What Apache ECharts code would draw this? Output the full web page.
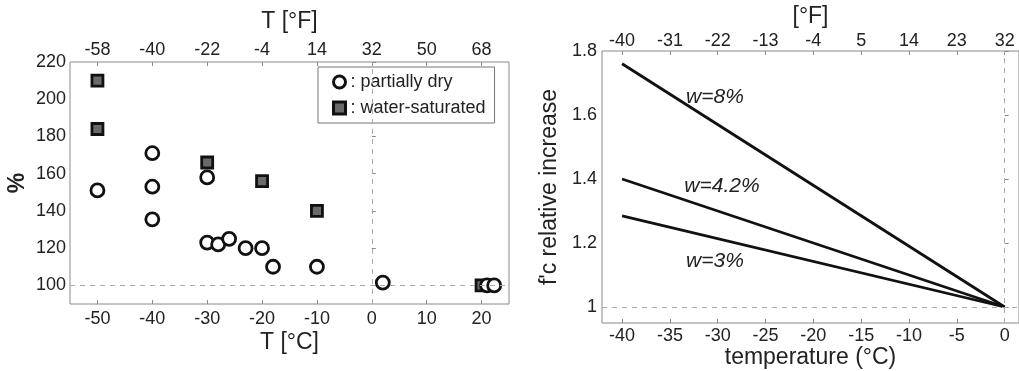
<!DOCTYPE html>
<html>
<head>
<meta charset="utf-8">
<script src="https://cdn.jsdelivr.net/npm/echarts@6/dist/echarts.min.js"></script>
<style>
  html, body { margin: 0; padding: 0; background: #fff; }
  #chart { width: 1019px; height: 371px; }
</style>
</head>
<body>
<div id="chart"></div>
<script>
// left panel: strength ratio vs temperature
const dryTempC = [-50, -40, -40, -40, -30, -30, -28, -26, -23, -20, -18, -10, 2, 21, 22.3];
const dryPct = [151, 171, 153, 135.5, 158, 123, 122, 125, 120, 120, 110, 110, 101.5, 100, 100];
const satTempC = [-50, -50, -30, -20, -10, 20];
const satPct = [210, 184, 166, 156, 140, 100];

const leftCTicks = [-50, -40, -30, -20, -10, 0, 10, 20];
const leftFTicks = [-58, -40, -22, -4, 14, 32, 50, 68];
const leftPctTicks = [100, 120, 140, 160, 180, 200, 220];

// right panel: f'c relative increase
const lineTempC = [-40, 0];
const w8 = [1.76, 1.0];
const w42 = [1.40, 1.0];
const w3 = [1.285, 1.0];
const lineNames = ['w=8%', 'w=4.2%', 'w=3%'];

const rightCTicks = [-40, -35, -30, -25, -20, -15, -10, -5, 0];
const rightFTicks = [-40, -31, -22, -13, -4, 5, 14, 23, 32];
const rightYTicks = [1, 1.2, 1.4, 1.6, 1.8];

const FONT = '"Liberation Sans", Arial, sans-serif';
const TXT = '#222';
const BORDER = '#8a8a8a';
const toF = c => c * 1.8 + 32;

const chart = echarts.init(document.getElementById('chart'));

function axisBase(ticks, margin) {
  return {
    axisLine: { show: false },
    axisTick: { show: true, inside: true, length: 4, customValues: ticks, lineStyle: { color: BORDER } },
    axisLabel: { customValues: ticks, color: TXT, fontSize: 18, fontFamily: FONT, margin: margin },
    splitLine: { show: false },
    nameMoveOverlap: false,
    nameTextStyle: { color: TXT, fontSize: 23, fontFamily: FONT }
  };
}

const dash = { type: [5, 5], color: '#aaa', width: 1 };

const option = {
  animation: false,
  backgroundColor: '#fff',
  textStyle: { fontFamily: FONT },
  grid: [
    { left: 70, right: 510, top: 62, bottom: 67, outerBoundsMode: 'none', show: true, borderColor: BORDER, borderWidth: 1 },
    { left: 602, right: 0, top: 51, bottom: 48, outerBoundsMode: 'none', show: true, borderColor: BORDER, borderWidth: 1 }
  ],
  legend: {
    data: [
      { name: 'partially dry', itemStyle: { color: '#fff', borderColor: '#111', borderWidth: 3 } },
      { name: 'water-saturated', itemStyle: { color: '#6a6a6a', borderColor: '#111', borderWidth: 3 } }
    ],
    orient: 'vertical',
    left: 318,
    top: 67,
    padding: [6, 9, 6, 14],
    itemWidth: 12,
    itemHeight: 12,
    itemGap: 8,
    backgroundColor: '#fff',
    borderColor: '#777',
    borderWidth: 1,
    formatter: ': {name}',
    textStyle: { color: TXT, fontSize: 18, fontFamily: FONT }
  },
  xAxis: [
    Object.assign(axisBase(leftCTicks, 6), {
      type: 'value', gridIndex: 0, position: 'bottom', min: -55, max: 25,
      name: 'T [°C]', nameLocation: 'middle', nameGap: 27
    }),
    Object.assign(axisBase(leftFTicks, 3), {
      type: 'value', gridIndex: 0, position: 'top', min: toF(-55), max: toF(25),
      name: 'T [°F]', nameLocation: 'middle', nameGap: 29
    }),
    Object.assign(axisBase(rightCTicks, 4), {
      type: 'value', gridIndex: 1, position: 'bottom', min: -42.1, max: 1.5,
      name: 'temperature (°C)', nameLocation: 'middle', nameGap: 23
    }),
    Object.assign(axisBase(rightFTicks, 1), {
      type: 'value', gridIndex: 1, position: 'top', min: toF(-42.1), max: toF(1.5),
      name: '[°F]', nameLocation: 'middle', nameGap: 23
    })
  ],
  yAxis: [
    Object.assign(axisBase(leftPctTicks, 4), {
      type: 'value', gridIndex: 0, min: 90, max: 220,
      name: '%', nameLocation: 'middle', nameGap: 41,
      nameTextStyle: { color: TXT, fontSize: 23, fontWeight: 'bold', fontFamily: FONT }
    }),
    Object.assign(axisBase(rightYTicks, 5), {
      type: 'value', gridIndex: 1, min: 0.95, max: 1.8,
      name: "f'c relative increase", nameLocation: 'middle', nameGap: 41,
      axisLabel: {
        customValues: rightYTicks, color: TXT, fontSize: 18, fontFamily: FONT, margin: 5,
        formatter: v => String(Math.round(v * 10) / 10)
      }
    })
  ],
  series: [
    {
      name: 'partially dry',
      type: 'scatter',
      xAxisIndex: 0, yAxisIndex: 0,
      symbol: 'circle',
      symbolSize: 13,
      itemStyle: { color: '#fff', borderColor: '#111', borderWidth: 2.8, opacity: 1 },
      data: dryTempC.map((c, i) => [c, dryPct[i]]),
      markLine: {
        silent: true, symbol: 'none', label: { show: false }, lineStyle: dash,
        data: [{ xAxis: 0 }, { yAxis: 100 }]
      },
      z: 3
    },
    {
      name: 'water-saturated',
      type: 'scatter',
      xAxisIndex: 0, yAxisIndex: 0,
      symbol: 'rect',
      symbolSize: 11,
      itemStyle: { color: '#6a6a6a', borderColor: '#111', borderWidth: 2.8, opacity: 1 },
      data: satTempC.map((c, i) => [c, satPct[i]]),
      z: 2
    },
    ...[w8, w42, w3].map((vals, k) => ({
      name: lineNames[k],
      type: 'line',
      xAxisIndex: 2, yAxisIndex: 1,
      showSymbol: false,
      lineStyle: { color: '#111', width: 2.8 },
      data: lineTempC.map((c, i) => [c, vals[i]]),
      markLine: k === 0 ? {
        silent: true, symbol: 'none', label: { show: false }, lineStyle: dash,
        data: [{ xAxis: 0 }, { yAxis: 1 }]
      } : undefined
    }))
  ],
  graphic: [
    { type: 'text', x: 715, y: 97, style: { text: lineNames[0], fill: TXT, font: 'italic 21px ' + FONT, align: 'center', verticalAlign: 'middle' } },
    { type: 'text', x: 722, y: 186, style: { text: lineNames[1], fill: TXT, font: 'italic 21px ' + FONT, align: 'center', verticalAlign: 'middle' } },
    { type: 'text', x: 715, y: 261, style: { text: lineNames[2], fill: TXT, font: 'italic 21px ' + FONT, align: 'center', verticalAlign: 'middle' } }
  ]
};

chart.setOption(option);
window.addEventListener('resize', () => chart.resize());
</script>
</body>
</html>
